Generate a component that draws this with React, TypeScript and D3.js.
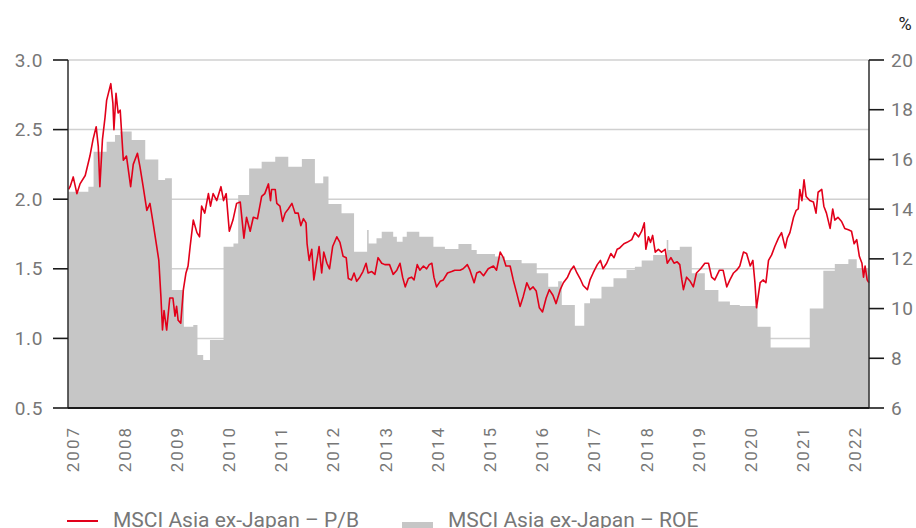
import React from "react";
import * as d3 from "d3";

const pbDates = [2007.01,2007.04,2007.10,2007.17,2007.23,2007.33,2007.42,2007.48,2007.54,2007.58,2007.61,2007.66,2007.71,2007.74,2007.82,2007.86,2007.88,2007.92,2007.96,2008.00,2008.06,2008.12,2008.20,2008.25,2008.33,2008.38,2008.44,2008.51,2008.57,2008.63,2008.70,2008.74,2008.78,2008.81,2008.84,2008.89,2008.95,2009.01,2009.05,2009.08,2009.11,2009.16,2009.21,2009.26,2009.30,2009.34,2009.40,2009.47,2009.52,2009.56,2009.62,2009.69,2009.73,2009.78,2009.85,2009.93,2009.98,2010.03,2010.09,2010.16,2010.23,2010.30,2010.37,2010.42,2010.49,2010.55,2010.63,2010.71,2010.77,2010.84,2010.88,2010.90,2010.97,2011.00,2011.06,2011.11,2011.16,2011.22,2011.29,2011.35,2011.41,2011.46,2011.51,2011.56,2011.58,2011.62,2011.67,2011.71,2011.76,2011.81,2011.86,2011.90,2011.96,2012.01,2012.07,2012.15,2012.21,2012.27,2012.33,2012.37,2012.43,2012.48,2012.53,2012.59,2012.65,2012.71,2012.75,2012.82,2012.88,2012.94,2013.01,2013.07,2013.16,2013.23,2013.30,2013.36,2013.41,2013.46,2013.52,2013.58,2013.63,2013.69,2013.74,2013.81,2013.87,2013.92,2013.97,2014.01,2014.06,2014.13,2014.19,2014.27,2014.35,2014.41,2014.51,2014.57,2014.65,2014.70,2014.78,2014.83,2014.89,2014.96,2015.05,2015.15,2015.21,2015.28,2015.34,2015.39,2015.47,2015.53,2015.60,2015.66,2015.72,2015.79,2015.85,2015.91,2015.97,2016.03,2016.09,2016.16,2016.22,2016.29,2016.35,2016.43,2016.49,2016.57,2016.63,2016.69,2016.75,2016.81,2016.87,2016.95,2017.00,2017.06,2017.14,2017.20,2017.25,2017.32,2017.40,2017.46,2017.52,2017.57,2017.65,2017.71,2017.80,2017.86,2017.93,2017.99,2018.04,2018.07,2018.12,2018.16,2018.20,2018.25,2018.31,2018.37,2018.44,2018.48,2018.55,2018.61,2018.67,2018.72,2018.76,2018.79,2018.85,2018.92,2018.98,2019.04,2019.12,2019.20,2019.27,2019.33,2019.39,2019.48,2019.55,2019.62,2019.68,2019.75,2019.81,2019.87,2019.94,2020.00,2020.07,2020.12,2020.16,2020.19,2020.26,2020.32,2020.37,2020.42,2020.48,2020.54,2020.61,2020.67,2020.74,2020.78,2020.83,2020.90,2020.95,2020.99,2021.02,2021.06,2021.10,2021.14,2021.21,2021.28,2021.33,2021.37,2021.44,2021.48,2021.53,2021.60,2021.65,2021.69,2021.75,2021.82,2021.88,2021.95,2022.01,2022.06,2022.11,2022.16,2022.21,2022.24,2022.27,2022.31,2022.345];

const pbValues = [2.07,2.09,2.16,2.04,2.11,2.17,2.31,2.43,2.52,2.38,2.09,2.43,2.59,2.71,2.83,2.69,2.50,2.76,2.62,2.64,2.28,2.31,2.09,2.25,2.33,2.23,2.09,1.92,1.97,1.83,1.66,1.56,1.30,1.06,1.20,1.06,1.29,1.29,1.16,1.23,1.13,1.11,1.35,1.47,1.52,1.66,1.85,1.76,1.73,1.95,1.90,2.04,1.95,2.04,1.99,2.09,1.99,2.04,1.77,1.85,1.97,1.98,1.72,1.87,1.77,1.87,1.86,2.02,2.04,2.11,1.99,2.07,2.07,1.97,1.95,1.84,1.90,1.93,1.97,1.90,1.90,1.81,1.86,1.83,1.68,1.56,1.64,1.42,1.54,1.66,1.47,1.62,1.54,1.50,1.66,1.73,1.69,1.59,1.58,1.43,1.42,1.47,1.41,1.44,1.48,1.54,1.47,1.48,1.46,1.58,1.54,1.53,1.53,1.46,1.49,1.54,1.44,1.37,1.43,1.44,1.42,1.53,1.49,1.52,1.50,1.53,1.54,1.44,1.37,1.41,1.42,1.47,1.48,1.49,1.49,1.50,1.53,1.49,1.40,1.47,1.48,1.45,1.50,1.52,1.49,1.62,1.58,1.52,1.52,1.42,1.32,1.23,1.30,1.40,1.35,1.37,1.34,1.22,1.19,1.29,1.35,1.31,1.25,1.35,1.40,1.44,1.49,1.52,1.47,1.43,1.38,1.35,1.42,1.47,1.53,1.56,1.50,1.54,1.61,1.58,1.64,1.65,1.68,1.69,1.71,1.76,1.73,1.77,1.83,1.64,1.73,1.69,1.74,1.62,1.64,1.62,1.64,1.54,1.58,1.54,1.55,1.53,1.42,1.35,1.44,1.41,1.37,1.47,1.50,1.54,1.54,1.44,1.42,1.49,1.49,1.37,1.42,1.47,1.49,1.52,1.62,1.61,1.52,1.56,1.40,1.22,1.40,1.42,1.40,1.56,1.60,1.66,1.72,1.76,1.65,1.72,1.76,1.87,1.92,1.93,2.07,1.99,2.14,2.02,1.99,1.98,1.90,2.05,2.07,1.95,1.90,1.79,1.93,1.85,1.87,1.84,1.79,1.78,1.77,1.68,1.71,1.59,1.54,1.44,1.52,1.42,1.40];

const roeDates = [2007.00,2007.39,2007.49,2007.74,2007.90,2008.00,2008.22,2008.48,2008.73,2008.86,2008.99,2009.22,2009.40,2009.48,2009.59,2009.72,2009.98,2010.17,2010.26,2010.47,2010.71,2010.97,2011.22,2011.48,2011.73,2011.89,2011.99,2012.24,2012.48,2012.73,2012.76,2012.91,2013.01,2013.23,2013.30,2013.41,2013.49,2013.73,2014.00,2014.22,2014.48,2014.73,2014.83,2015.18,2015.37,2015.69,2015.98,2016.20,2016.39,2016.46,2016.71,2016.89,2017.00,2017.22,2017.45,2017.70,2017.86,2017.99,2018.21,2018.47,2018.50,2018.72,2018.95,2019.20,2019.46,2019.68,2019.87,2020.21,2020.46,2021.21,2021.47,2021.69,2021.95,2022.11,2022.345];

const roeValues = [14.70,14.90,16.31,16.71,16.98,17.12,16.78,16.00,15.17,15.24,10.75,9.27,9.34,8.13,7.93,8.74,12.49,12.62,14.57,15.64,15.91,16.11,15.71,16.02,15.04,15.31,14.21,13.83,12.29,13.16,12.62,12.83,13.09,12.89,12.69,12.89,13.09,12.89,12.49,12.40,12.60,12.36,12.20,12.09,11.95,11.82,11.42,10.88,11.10,10.14,9.31,10.21,10.41,10.88,11.22,11.55,11.68,11.93,12.16,12.76,12.36,12.49,11.42,10.75,10.28,10.14,10.10,9.27,8.43,10.00,11.52,11.79,11.98,11.62,11.62];

const yearLabels = [2007,2008,2009,2010,2011,2012,2013,2014,2015,2016,2017,2018,2019,2020,2021,2022];
const leftTicks = [0.5,1.0,1.5,2.0,2.5,3.0];
const rightTicks = [6,8,10,12,14,16,18,20];
const gridTicks = [1.0,1.5,2.0,2.5,3.0];
const legendLabels = ["MSCI Asia ex-Japan – P/B","MSCI Asia ex-Japan – ROE"];

const X0 = 68, X1 = 869, Y0 = 60, Y1 = 408;
const FONT = "Roboto, 'Liberation Sans', Arial, sans-serif";
const LABEL = "#777";
const AXIS = "#3a3a3a";
const RED = "#e2001a";
const GREY = "#c6c6c6";

export default function App() {
  const x = d3.scaleLinear().domain([2007, 2022.345]).range([X0, X1]);
  const yL = d3.scaleLinear().domain([0.5, 3.0]).range([Y1, Y0]);
  const yR = d3.scaleLinear().domain([6, 20]).range([Y1, Y0]);

  const pb = pbDates.map((d, i) => [d, pbValues[i]] as [number, number]);
  const roe = roeDates.map((d, i) => [d, roeValues[i]] as [number, number]);

  const line = d3.line<[number, number]>().x(d => x(d[0])).y(d => yL(d[1]));
  const area = d3.area<[number, number]>()
    .x(d => x(d[0])).y0(yR(6)).y1(d => yR(d[1]))
    .curve(d3.curveStepAfter);

  return (
    <svg width={916} height={528} style={{ position: "absolute", left: 0, top: 0, fontFamily: FONT }}>
      <rect x={0} y={0} width={916} height={528} fill="#fff" />
      {gridTicks.map(t => (
        <line key={"g" + t} x1={X0} x2={X1} y1={yL(t)} y2={yL(t)} stroke="#d0d0d0" strokeWidth={1.5} />
      ))}
      <path d={area(roe) || ""} fill={GREY} />
      <path d={line(pb) || ""} fill="none" stroke={RED} strokeWidth={1.6} strokeLinejoin="round" />
      <line x1={X0} x2={X0} y1={Y0} y2={Y1} stroke={AXIS} strokeWidth={1.6} />
      <line x1={X1} x2={X1} y1={Y0} y2={Y1} stroke={AXIS} strokeWidth={1.6} />
      <line x1={X0} x2={X1} y1={Y1} y2={Y1} stroke="#1a1a1a" strokeWidth={2} />
      {leftTicks.map(t => (
        <g key={"l" + t}>
          <line x1={53} x2={X0} y1={yL(t)} y2={yL(t)} stroke="#1a1a1a" strokeWidth={1.6} />
          <text x={43} y={yL(t)} textAnchor="end" dominantBaseline="central" fontSize={19} fill={LABEL} letterSpacing={0.6}>
            {t.toFixed(1)}
          </text>
        </g>
      ))}
      {rightTicks.map(t => (
        <g key={"r" + t}>
          <line x1={X1} x2={884} y1={yR(t)} y2={yR(t)} stroke="#1a1a1a" strokeWidth={1.6} />
          <text x={891} y={yR(t)} textAnchor="start" dominantBaseline="central" fontSize={19} fill={LABEL} letterSpacing={0.6}>
            {t}
          </text>
        </g>
      ))}
      <text x={905} y={23} textAnchor="middle" dominantBaseline="central" fontSize={18} fill="#222">%</text>
      {yearLabels.map(yr => (
        <text key={yr} transform={`translate(${x(yr) + 10.5},426) rotate(-90)`} textAnchor="end"
          fontSize={17} fill={LABEL} letterSpacing={2}>
          {yr}
        </text>
      ))}
      <line x1={67} x2={98} y1={521} y2={521} stroke={RED} strokeWidth={2} />
      <text x={113} y={527} fontSize={21} fill={LABEL}>{legendLabels[0]}</text>
      <rect x={402} y={522} width={31} height={14} fill={GREY} />
      <text x={448} y={527} fontSize={21} fill={LABEL}>{legendLabels[1]}</text>
    </svg>
  );
}
